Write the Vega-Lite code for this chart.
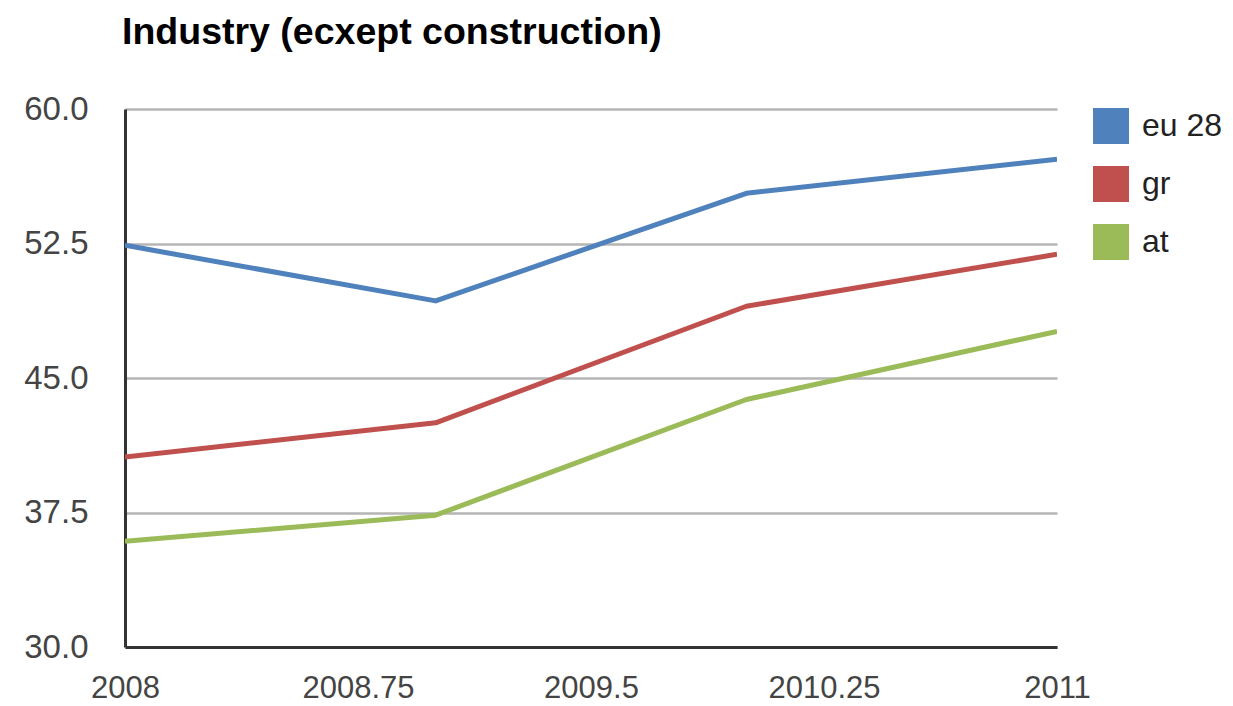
{
  "$schema": "https://vega.github.io/schema/vega-lite/v6.json",
  "autosize": "none",
  "width": 932,
  "height": 538,
  "padding": {"left": 125, "top": 109, "right": 176, "bottom": 59},
  "background": "white",
  "title": {
    "text": "Industry (ecxept construction)",
    "anchor": "start",
    "frame": "group",
    "font": "Liberation Sans",
    "fontWeight": "bold",
    "fontSize": 37.5,
    "color": "#000000",
    "dx": -3,
    "offset": 42
  },
  "data": {
    "values": [
      {"year": 2008, "series": "eu 28", "value": 52.4},
      {"year": 2009, "series": "eu 28", "value": 49.3},
      {"year": 2010, "series": "eu 28", "value": 55.3},
      {"year": 2011, "series": "eu 28", "value": 57.2},
      {"year": 2008, "series": "gr", "value": 40.6},
      {"year": 2009, "series": "gr", "value": 42.5},
      {"year": 2010, "series": "gr", "value": 49.0},
      {"year": 2011, "series": "gr", "value": 51.9},
      {"year": 2008, "series": "at", "value": 35.9},
      {"year": 2009, "series": "at", "value": 37.35},
      {"year": 2010, "series": "at", "value": 43.8},
      {"year": 2011, "series": "at", "value": 47.6}
    ]
  },
  "mark": {"type": "line", "strokeWidth": 5, "interpolate": "linear", "strokeJoin": "round", "clip": true},
  "encoding": {
    "x": {
      "field": "year",
      "type": "quantitative",
      "scale": {"domain": [2008, 2011], "nice": false, "zero": false},
      "axis": {
        "title": null,
        "values": [2008, 2008.75, 2009.5, 2010.25, 2011],
        "labelExpr": "'' + datum.value",
        "grid": false,
        "ticks": false,
        "domainColor": "#333333",
        "domainWidth": 3,
        "labelFont": "Liberation Sans",
        "labelFontSize": 31,
        "labelColor": "#444444",
        "labelPadding": 26,
        "labelOverlap": false,
        "labelBound": false,
        "labelFlush": false
      }
    },
    "y": {
      "field": "value",
      "type": "quantitative",
      "scale": {"domain": [30, 60], "nice": false, "zero": false},
      "axis": {
        "title": null,
        "values": [30, 37.5, 45, 52.5, 60],
        "format": ".1f",
        "grid": true,
        "gridColor": "#b5b5b5",
        "gridWidth": 2.5,
        "ticks": false,
        "domainColor": "#333333",
        "domainWidth": 3,
        "labelFont": "Liberation Sans",
        "labelFontSize": 33,
        "labelColor": "#444444",
        "labelPadding": 37,
        "labelOverlap": false,
        "labelBound": false
      }
    },
    "color": {
      "field": "series",
      "type": "nominal",
      "scale": {"domain": ["eu 28", "gr", "at"], "range": ["#4F81BD", "#C0504D", "#9BBB59"]},
      "legend": {
        "title": null,
        "orient": "none",
        "legendX": 968,
        "legendY": -1,
        "symbolType": "square",
        "symbolSize": 1296,
        "symbolStrokeWidth": 0,
        "symbolOpacity": 1,
        "labelFont": "Liberation Sans",
        "labelFontSize": 32,
        "labelColor": "#222222",
        "labelOffset": 13,
        "rowPadding": 22,
        "encode": {
          "symbols": {
            "update": {
              "fill": {"scale": "color", "field": "value"},
              "fillOpacity": {"value": 1}
            }
          }
        }
      }
    }
  },
  "config": {"view": {"stroke": null}}
}
